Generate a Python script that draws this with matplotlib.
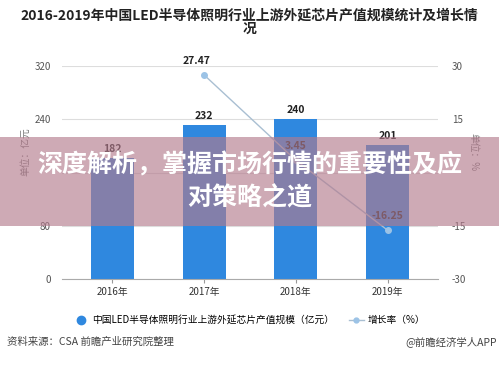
import matplotlib.pyplot as plt
from matplotlib.lines import Line2D
from matplotlib.patches import Rectangle

plt.rcParams['font.family'] = ['Noto Sans CJK SC', 'DejaVu Sans']

years = ["2016年", "2017年", "2018年", "2019年"]
output = [182, 232, 240, 201]
growth_years = [1, 2, 3]
growth = [27.47, 3.45, -16.25]

fig = plt.figure(figsize=(4.99, 3.65), dpi=100)
ax = fig.add_axes([62/499, 1-279/365, 376/499, 213/365])
ax2 = ax.twinx()

x = list(range(len(years)))
ax.bar(x, output, width=0.47, color='#2f88df', zorder=2)
for i, v in enumerate(output):
    ax.text(i, v + 6, str(v), ha='center', va='bottom', fontsize=7.5,
            fontweight='bold', color='#222222')

ax.set_xlim(-0.55, 3.55)
ax.set_ylim(0, 320)
ax.set_yticks([0, 80, 160, 240, 320])
# the 160 label sits under the banner headline in the reference
ax.set_yticklabels(['0', '80', '', '240', '320'])
ax.set_xticks(x)
ax.set_xticklabels(years, fontsize=7, color='#333333')
ax.grid(axis='y', color='#dddddd', lw=0.8, zorder=0)
ax.tick_params(axis='y', length=0, labelsize=7, labelcolor='#555555', pad=8)
ax.tick_params(axis='x', length=3, color='#999999', pad=3)
for s in ['top', 'right', 'left']:
    ax.spines[s].set_visible(False)
ax.spines['bottom'].set_color('#aaaaaa')

ax2.plot(growth_years, growth, color='#a9bfd2', lw=1, marker='o', ms=4,
         markerfacecolor='#9cc3e6', markeredgecolor='#9cc3e6', zorder=3)
offs = [(-0.08, 2.5), (0, 2.5), (0, 2.5)]
for (gx, gy), (dx, dy) in zip(zip(growth_years, growth), offs):
    ax2.text(gx + dx, gy + dy, f"{gy:.2f}", ha='center', va='bottom',
             fontsize=7.5, fontweight='bold', color='#222222')
ax2.set_ylim(-30, 30)
ax2.set_yticks([-30, -15, 15, 30])
ax2.set_yticklabels(['-30', '-15', '15', '30'])
ax2.tick_params(axis='y', length=0, labelsize=7, labelcolor='#555555', pad=10)
for s in ['top', 'right', 'left', 'bottom']:
    ax2.spines[s].set_visible(False)

fig.text(25/499, 1-152/365, "单位：亿元", rotation=90, ha='center', va='center',
         fontsize=7, color='#777777')
fig.text(473/499, 1-152/365, "单位：%", rotation=270, ha='center', va='center',
         fontsize=7, color='#777777')

fig.text(0.5, 1-22/365, "2016-2019年中国LED半导体照明行业上游外延芯片产值规模统计及增长情\n况",
         ha='center', va='center', fontsize=10, fontweight='bold', color='#222222',
         linespacing=0.95)

# legend
leg_items = [
    Line2D([], [], ls='none', marker='o', ms=6, color='#2f88df'),
    Line2D([], [], color='#a9bfd2', lw=1, marker='o', ms=3.5,
           markerfacecolor='#9cc3e6', markeredgecolor='#9cc3e6'),
]
fig.legend(leg_items, ["中国LED半导体照明行业上游外延芯片产值规模（亿元）", "增长率（%）"],
           loc='center', bbox_to_anchor=(0.5, 1-320/365), ncol=2, frameon=False,
           fontsize=7, handlelength=1.5, columnspacing=1.5, handletextpad=0.4)

fig.text(7/499, 1-342/365, "资料来源：CSA 前瞻产业研究院整理", ha='left', va='center',
         fontsize=7.5, color='#444444')
fig.text(497/499, 1-342/365, "@前瞻经济学人APP", ha='right', va='center',
         fontsize=7.5, color='#444444')

# overlay banner
fig.patches.append(Rectangle((0, 1-226/365), 1, 89/365, transform=fig.transFigure,
                             facecolor=(0.70, 0.48, 0.55), alpha=0.64, zorder=5))
fig.text(0.5, 1-165/365, "深度解析，掌握市场行情的重要性及应", ha='center', va='center',
         fontsize=18, fontweight='bold', color='white', zorder=6)
fig.text(0.5, 1-198/365, "对策略之道", ha='center', va='center',
         fontsize=18, fontweight='bold', color='white', zorder=6)

fig.savefig("out.png", dpi=100)
